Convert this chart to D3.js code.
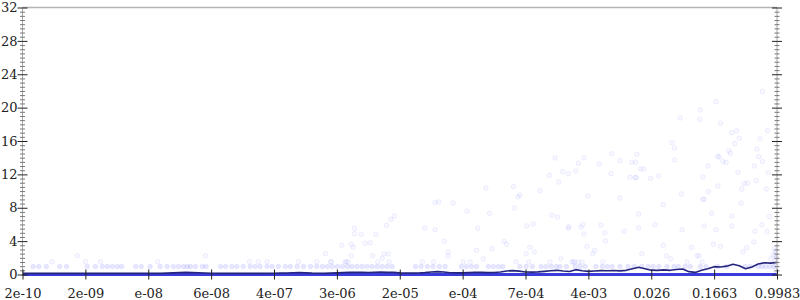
<!DOCTYPE html>
<html>
<head>
<meta charset="utf-8">
<script src="https://cdn.jsdelivr.net/npm/d3@7"></script>
<style>
  body { margin: 0; background: #fff; }
  .tick text { font-family: "DejaVu Serif", serif; font-size: 13px; fill: #222; }
</style>
</head>
<body>
<div id="chart"></div>
<script>
// x positions are in tick-slot units (0 = first label, 12 = last label)
var xLabels = ["2e-10", "2e-09", "e-08", "6e-08", "4e-07", "3e-06", "2e-05",
               "e-04", "7e-04", "4e-03", "0.026", "0.1663", "0.9983"];
var yMajor = [0, 4, 8, 12, 16, 20, 24, 28, 32];

// points sitting on the ~1 row
var rowX = [0.17, 0.26, 0.38, 0.59, 0.70, 1.03, 1.16, 1.27, 1.35, 1.43, 1.51, 1.58,
            1.80, 1.89, 2.03, 2.19, 2.30, 2.40, 2.48, 2.56, 2.62, 2.67, 2.75, 2.86,
            2.92, 3.15, 3.23, 3.33, 3.41, 3.51, 3.62, 3.70, 3.78, 3.89, 3.97, 4.07,
            4.18, 4.26, 4.37, 4.47, 4.58, 4.68, 4.77, 4.85, 4.93, 5.01, 5.09, 5.17,
            5.24, 5.32, 5.40, 5.48, 5.56, 5.64, 5.72, 5.80, 5.88, 6.25, 6.34, 6.44,
            6.53, 6.63, 6.72, 6.98, 7.06, 7.14, 7.22, 7.41, 7.49, 7.57, 7.64, 7.91,
            8.01, 8.11, 8.25, 8.33, 8.41, 8.49, 8.55, 8.65, 8.79, 8.87, 8.95, 9.12,
            9.22, 9.30, 9.38, 9.50, 9.63, 9.73, 9.85, 9.95, 10.03, 10.12, 10.25,
            10.36, 10.43, 10.54, 10.62, 10.78, 10.87, 11.06, 11.20, 11.49, 11.57,
            11.70, 11.76, 11.82, 11.89, 11.95];
var rowValue = 0.95;

// scattered points
var dotX = [0.47, 0.87, 1.00, 1.24, 2.15, 2.91, 3.61, 3.75, 3.89, 4.39, 4.68, 4.82,
            4.90, 4.91, 5.08, 5.13, 5.15, 5.18, 5.23, 5.26, 5.23, 5.28, 5.28, 5.39,
            5.45, 5.53, 5.57, 5.62, 5.65, 5.72, 5.75, 5.82, 5.79, 5.86, 5.91, 5.83,
            6.36, 6.40, 6.56, 6.62, 6.56, 6.54, 6.71, 6.77, 6.77, 6.85, 7.01, 7.07,
            7.12, 7.22, 7.24, 7.33, 7.37, 7.43, 7.47, 7.66, 7.70, 7.81, 7.82, 7.88,
            7.91, 7.85, 8.01, 8.05, 8.02, 8.12, 8.07, 8.14, 8.23, 8.38, 8.39, 8.74,
            8.76, 8.78, 8.84, 8.90, 9.23, 10.57, 10.81,
            11.77, 11.03, 10.78, 10.46, 10.77, 11.10, 11.28, 11.36, 11.85, 11.40,
            11.73, 10.33, 11.33, 10.37, 11.68, 11.23, 11.26, 8.47, 8.93, 9.37, 9.77,
            11.71, 11.06, 11.08, 10.37, 9.50, 9.69, 9.75, 8.84, 9.17, 11.14, 11.19,
            11.77, 11.64, 10.90, 9.83, 9.88, 8.59, 8.68, 8.80, 11.38, 11.86, 9.36,
            9.66, 9.74, 9.76, 9.99, 10.12, 10.82, 11.67, 8.53, 11.48, 11.53, 11.06,
            11.44, 11.83, 10.91, 10.48, 8.99, 9.50, 10.82, 10.84, 11.43, 10.19, 9.80,
            10.96, 8.42, 8.51, 11.28, 11.88, 10.06, 8.69, 8.68, 8.88, 8.91, 9.20,
            9.80, 10.84, 11.28, 11.76, 8.93, 9.26, 9.57, 10.49, 11.03, 11.65, 11.84,
            9.27, 8.98, 10.19, 10.64, 10.99, 11.10, 11.52, 11.63, 9.10, 9.07, 9.85,
            10.24, 10.31, 10.73, 10.76, 11.46, 8.56, 11.97, 11.94, 11.90,
            11.98, 11.99, 11.97, 11.99, 11.98, 11.96];
var dotY = [1.53, 2.25, 1.53, 1.53, 1.53, 2.25, 1.53, 1.53, 1.53, 1.53, 1.53, 2.50,
            1.50, 1.53, 3.50, 1.50, 1.53, 1.50, 3.62, 3.26, 2.25, 5.54, 4.89, 4.82,
            3.74, 3.81, 2.25, 4.82, 1.50, 1.94, 2.46, 2.46, 5.90, 6.62, 7.01, 1.50,
            1.50, 5.58, 8.61, 8.69, 5.37, 1.50, 3.98, 2.70, 2.22, 8.57, 1.50, 7.58,
            1.50, 2.90, 5.54, 1.89, 10.37, 7.34, 3.09, 3.98, 3.62, 10.53, 7.97, 9.29,
            9.53, 1.50, 2.49, 1.50, 5.82, 6.06, 3.26, 2.70, 10.05, 11.89, 1.50, 1.50,
            1.50, 1.50, 1.50, 1.50, 1.50, 1.50, 1.50,
            21.92, 20.72, 19.72, 18.76, 18.61, 18.13, 17.00, 17.21, 17.24, 16.33,
            16.25, 15.80, 15.68, 15.17, 15.01, 14.81, 14.53, 13.97, 14.00, 14.48, 14.41,
            14.12, 14.17, 14.09, 13.73, 13.65, 13.45, 13.45, 13.33, 13.25, 13.53, 13.41,
            13.53, 13.01, 13.01, 12.65, 12.65, 12.33, 12.09, 12.41, 12.25, 12.21, 12.09,
            11.65, 11.61, 11.61, 11.53, 11.81, 11.69, 11.25, 11.09, 10.89, 10.97, 10.61,
            10.22, 10.25, 9.93, 9.65, 9.41, 9.17, 9.02, 9.02, 8.54, 8.37, 7.25,
            7.34, 7.10, 6.89, 7.01, 6.93, 5.97, 5.73, 5.54, 5.66, 5.97, 5.90,
            5.61, 5.82, 5.82, 5.97, 4.86, 5.01, 5.18, 5.37, 5.37, 5.18, 5.13,
            4.02, 3.38, 3.50, 3.26, 3.62, 3.38, 3.21, 3.90, 2.90, 2.49, 2.49,
            2.25, 1.89, 2.25, 2.25, 2.73, 1.89, 2.85, 2.34, 1.89,
            0.50, 1.20, 1.60, 2.00, 2.40, 3.10];

// running mean line, sampled every 0.1 slot from 0 to 12
var meanX = d3.range(0, 121).map(function(i) { return i / 10; });
var meanY = [0.14, 0.14, 0.15, 0.14, 0.13, 0.14, 0.15, 0.14, 0.14, 0.15,
             0.14, 0.13, 0.14, 0.15, 0.14, 0.14, 0.13, 0.14, 0.15, 0.14,
             0.14, 0.15, 0.14, 0.16, 0.19, 0.23, 0.25, 0.23, 0.21, 0.18,
             0.15, 0.14, 0.14, 0.15, 0.14, 0.15, 0.14, 0.14, 0.15, 0.14,
             0.15, 0.16, 0.18, 0.21, 0.23, 0.21, 0.17, 0.15, 0.14, 0.16,
             0.19, 0.23, 0.25, 0.27, 0.26, 0.24, 0.27, 0.28, 0.26, 0.25,
             0.20, 0.17, 0.16, 0.18, 0.22, 0.30, 0.34, 0.30, 0.21, 0.19,
             0.20, 0.22, 0.25, 0.26, 0.22, 0.24, 0.30, 0.42, 0.46, 0.40,
             0.30, 0.28, 0.32, 0.38, 0.45, 0.50, 0.42, 0.36, 0.58, 0.45,
             0.38, 0.42, 0.46, 0.45, 0.48, 0.44, 0.50, 0.70, 0.86, 0.70,
             0.52, 0.50, 0.56, 0.50, 0.60, 0.66, 0.34, 0.25, 0.50, 0.70,
             0.94, 0.90, 1.00, 1.22, 1.05, 0.70, 0.90, 1.25, 1.40, 1.36,
             1.45];

// zero counts form a solid band along the bottom
var zeroX = [0, 12];

var svgWidth = 800;
var svgHeight = 300;

var svg = d3.select("#chart")
            .append("svg")
            .attr("width", svgWidth)
            .attr("height", svgHeight);

var xScale = d3.scaleLinear().domain([0, 12]).range([22.5, 777]);
var yScale = d3.scaleLinear().domain([0, 32]).range([274.5, 7.5]);

// top border
svg.append("line")
   .attr("x1", xScale(0)).attr("x2", xScale(12))
   .attr("y1", yScale(32)).attr("y2", yScale(32))
   .attr("stroke", "#b4b4b4")
   .attr("stroke-width", 1.5);

// row dots
svg.append("g")
   .selectAll("circle")
   .data(rowX)
   .enter()
   .append("circle")
   .attr("cx", function(d) { return xScale(d); })
   .attr("cy", yScale(rowValue))
   .attr("r", 2.3)
   .attr("fill", "rgba(60,60,255,0.12)")
   .attr("stroke", "rgba(60,60,255,0.1)")
   .attr("stroke-width", 0.8);

// scattered dots
svg.append("g")
   .selectAll("circle")
   .data(dotX)
   .enter()
   .append("circle")
   .attr("cx", function(d) { return xScale(d); })
   .attr("cy", function(d, i) { return yScale(dotY[i]); })
   .attr("r", 2.3)
   .attr("fill", "rgba(60,60,255,0.035)")
   .attr("stroke", "rgba(60,60,255,0.1)")
   .attr("stroke-width", 0.8);

// zero band
svg.append("path")
   .datum(zeroX)
   .attr("fill", "none")
   .attr("stroke", "#3b3bdc")
   .attr("stroke-width", 3)
   .attr("d", d3.line()
       .x(function(d) { return xScale(d); })
       .y(function() { return yScale(0); }));

// mean line
svg.append("path")
   .datum(meanX)
   .attr("fill", "none")
   .attr("stroke", "#25257e")
   .attr("stroke-width", 1.6)
   .attr("stroke-linejoin", "round")
   .attr("d", d3.line()
       .x(function(d) { return xScale(d); })
       .y(function(d, i) { return yScale(meanY[i]); }));

// y axes: minor ticks every 0.5, major every 4, crossing the axis line
var yMinor = d3.range(0, 64).map(function(i) { return i / 2; })
               .filter(function(v) { return v % 4 !== 0; });

[xScale(0), xScale(12)].forEach(function(x0, side) {
    svg.append("line")
       .attr("x1", x0).attr("x2", x0)
       .attr("y1", yScale(32)).attr("y2", yScale(0))
       .attr("stroke", "#aaa")
       .attr("stroke-width", 1);

    svg.append("g")
       .attr("transform", "translate(" + (x0 + 2.5) + ",0)")
       .call(d3.axisLeft(yScale).tickValues(yMinor).tickSize(5).tickFormat(""))
       .call(function(g) { g.select(".domain").remove(); })
       .selectAll("line").attr("stroke", "#777");

    svg.append("g")
       .attr("transform", "translate(" + (x0 + 5) + ",0)")
       .call(d3.axisLeft(yScale).tickValues(yMajor).tickSize(10).tickPadding(0)
               .tickFormat(side === 0 ? d3.format("d") : ""))
       .call(function(g) { g.select(".domain").remove(); })
       .selectAll("line").attr("stroke", "#222");
});

// x axis ticks crossing the baseline
svg.append("g")
   .attr("transform", "translate(0," + (yScale(0) + 5) + ")")
   .call(d3.axisBottom(xScale).tickValues(d3.range(0, 13)).tickSize(10)
           .tickPadding(-1)
           .tickFormat(function(d) { return xLabels[d]; }))
   .call(function(g) { g.select(".domain").remove(); })
   .call(function(g) {
       g.selectAll("line").attr("stroke", "#222").attr("y1", -10).attr("y2", 0);
   });
</script>
</body>
</html>
